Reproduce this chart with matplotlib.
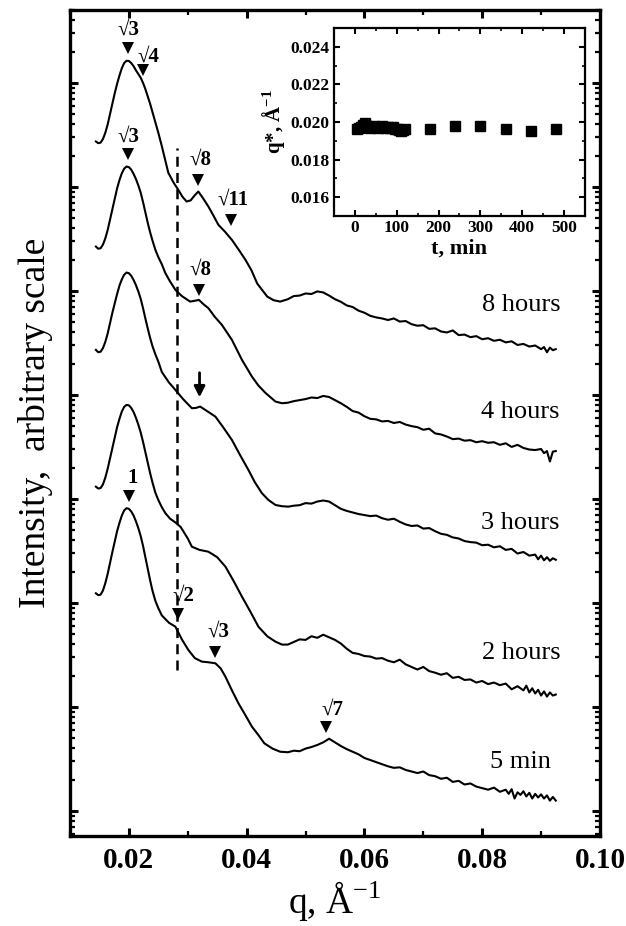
import numpy as np
import matplotlib
matplotlib.use("Agg")
import matplotlib.pyplot as plt
from matplotlib.ticker import LogLocator, NullFormatter, MultipleLocator, FormatStrFormatter

plt.rcParams['font.family'] = ['Liberation Serif', 'DejaVu Serif']
plt.rcParams['mathtext.fontset'] = 'custom'
plt.rcParams['mathtext.rm'] = 'Liberation Serif'
plt.rcParams['mathtext.bf'] = 'Liberation Serif:bold'

# ---- SAXS curves (q in 1/A, log10 of shifted intensity) ----
q_8h = [0.0144, 0.0148, 0.0152, 0.0156, 0.0160, 0.0164, 0.0168, 0.0172, 0.0176, 0.0180,
        0.0184, 0.0188, 0.0192, 0.0196, 0.0200, 0.0204, 0.0208, 0.0212, 0.0216, 0.0220,
        0.0224, 0.0228, 0.0232, 0.0236, 0.0240, 0.0245, 0.0250, 0.0256, 0.0262,
        0.0267, 0.0276, 0.0284, 0.0291, 0.0298,
        0.0305, 0.0312, 0.0318, 0.0326, 0.0335, 0.0343, 0.0352, 0.0363, 0.0375, 0.0386,
        0.0398, 0.0408, 0.0418, 0.0435, 0.0446, 0.0457,
        0.047, 0.048, 0.049, 0.050, 0.051, 0.052, 0.053, 0.054, 0.055, 0.056,
        0.057, 0.058, 0.059, 0.060, 0.061, 0.062, 0.063, 0.064, 0.065, 0.066,
        0.067, 0.068, 0.069, 0.070, 0.071, 0.072, 0.073, 0.074, 0.075, 0.076,
        0.077, 0.078, 0.079, 0.080, 0.081, 0.082, 0.083, 0.084, 0.085, 0.086,
        0.087, 0.088, 0.089, 0.090, 0.0905, 0.091, 0.0915, 0.092, 0.0925]
lg_8h = [6.436, 6.42, 6.425, 6.46, 6.52, 6.60, 6.70, 6.80, 6.90, 6.99,
         7.07, 7.14, 7.19, 7.212, 7.21, 7.19, 7.16, 7.12, 7.085, 7.05,
         7.00, 6.94, 6.87, 6.80, 6.72, 6.62, 6.52, 6.39, 6.25,
         6.135, 6.04, 5.971, 5.905, 5.859,
         5.87, 5.92, 5.955, 5.89, 5.811, 5.73, 5.635, 5.57, 5.49, 5.40,
         5.298, 5.20, 5.07, 4.945, 4.91, 4.897,
         4.92, 4.95, 4.955, 4.975, 4.97, 4.995, 4.985, 4.955, 4.92, 4.895,
         4.86, 4.845, 4.81, 4.79, 4.76, 4.745, 4.735, 4.72, 4.735, 4.705,
         4.71, 4.68, 4.665, 4.67, 4.635, 4.64, 4.61, 4.60, 4.62, 4.575,
         4.58, 4.555, 4.565, 4.535, 4.545, 4.52, 4.53, 4.505, 4.515, 4.48,
         4.49, 4.465, 4.475, 4.44, 4.46, 4.41, 4.455, 4.43, 4.44]

q_4h = [0.0144, 0.0148, 0.0152, 0.0156, 0.0160, 0.0164, 0.0168, 0.0172, 0.0176, 0.0180,
        0.0184, 0.0188, 0.0192, 0.0196, 0.0200, 0.0204, 0.0208, 0.0212, 0.0216, 0.0220,
        0.0224, 0.0228, 0.0232, 0.0236, 0.0240, 0.0245, 0.0250, 0.0256, 0.0262,
        0.0270, 0.0279, 0.0290, 0.0304, 0.0312,
        0.0319, 0.0327, 0.0335, 0.0346, 0.0358, 0.0375, 0.0392, 0.0409, 0.0420, 0.0432,
        0.0449, 0.0460,
        0.047, 0.048, 0.049, 0.050, 0.051, 0.052, 0.053, 0.054, 0.055, 0.056,
        0.057, 0.058, 0.059, 0.060, 0.061, 0.062, 0.063, 0.064, 0.065, 0.066,
        0.067, 0.068, 0.069, 0.070, 0.071, 0.072, 0.073, 0.074, 0.075, 0.076,
        0.077, 0.078, 0.079, 0.080, 0.081, 0.082, 0.083, 0.084, 0.085, 0.086,
        0.087, 0.088, 0.089, 0.090, 0.0905, 0.091, 0.0915, 0.092, 0.0925]
lg_4h = [5.426, 5.405, 5.41, 5.445, 5.505, 5.585, 5.685, 5.785, 5.885, 5.985,
         6.065, 6.13, 6.175, 6.195, 6.19, 6.165, 6.125, 6.075, 6.015, 5.945,
         5.855, 5.755, 5.655, 5.565, 5.485, 5.395, 5.325, 5.255, 5.17,
         5.09, 5.01, 4.95, 4.897, 4.905,
         4.913, 4.87, 4.834, 4.75, 4.673, 4.529, 4.337, 4.176, 4.09, 4.019,
         3.936, 3.92,
         3.925, 3.94, 3.95, 3.96, 3.975, 3.97, 3.99, 3.98, 3.95, 3.92,
         3.885, 3.845, 3.83, 3.795, 3.77, 3.765, 3.745, 3.75, 3.73, 3.74,
         3.715, 3.70, 3.69, 3.665, 3.675, 3.63, 3.62, 3.60, 3.575, 3.58,
         3.56, 3.565, 3.545, 3.555, 3.54, 3.545, 3.52, 3.535, 3.50, 3.52,
         3.49, 3.475, 3.47, 3.48, 3.44, 3.46, 3.36, 3.455, 3.46]

q_3h = [0.0144, 0.0148, 0.0152, 0.0156, 0.0160, 0.0164, 0.0168, 0.0172, 0.0176, 0.0180,
        0.0184, 0.0188, 0.0192, 0.0196, 0.0200, 0.0204, 0.0208, 0.0212, 0.0216, 0.0220,
        0.0224, 0.0228, 0.0232, 0.0236, 0.0240, 0.0245, 0.0250, 0.0256,
        0.0268, 0.0279, 0.0292, 0.0307, 0.0314,
        0.0321, 0.0334, 0.0347, 0.0360, 0.0375, 0.0389, 0.0403, 0.0414, 0.0426, 0.0437,
        0.0449, 0.0460, 0.0471,
        0.048, 0.049, 0.050, 0.051, 0.052, 0.053, 0.054, 0.055, 0.056,
        0.057, 0.058, 0.059, 0.060, 0.061, 0.062, 0.063, 0.064, 0.065, 0.066,
        0.067, 0.068, 0.069, 0.070, 0.071, 0.072, 0.073, 0.074, 0.075, 0.076,
        0.077, 0.078, 0.079, 0.080, 0.081, 0.082, 0.083, 0.084, 0.085, 0.086,
        0.087, 0.088, 0.089, 0.0895, 0.090, 0.0905, 0.091, 0.0915, 0.092, 0.0925]
lg_3h = [4.433, 4.41, 4.415, 4.45, 4.51, 4.59, 4.69, 4.79, 4.88, 4.97,
         5.05, 5.11, 5.155, 5.176, 5.17, 5.145, 5.105, 5.055, 4.995, 4.925,
         4.835, 4.735, 4.64, 4.55, 4.47, 4.39, 4.32, 4.22,
         4.12, 4.048, 3.96, 3.872, 3.875,
         3.888, 3.84, 3.791, 3.69, 3.567, 3.42, 3.279, 3.16, 3.055, 2.99,
         2.942, 2.93, 2.926,
         2.935, 2.94, 2.96, 2.955, 2.975, 2.985, 2.975, 2.94, 2.905,
         2.885, 2.87, 2.855, 2.845, 2.835, 2.84, 2.815, 2.80, 2.81, 2.78,
         2.755, 2.74, 2.745, 2.715, 2.72, 2.69, 2.665, 2.655, 2.63, 2.62,
         2.595, 2.585, 2.58, 2.555, 2.56, 2.535, 2.545, 2.51, 2.52, 2.475,
         2.49, 2.455, 2.465, 2.42, 2.455, 2.41, 2.44, 2.405, 2.43, 2.415]

q_2h = [0.0144, 0.0148, 0.0152, 0.0156, 0.0160, 0.0164, 0.0168, 0.0172, 0.0176, 0.0180,
        0.0184, 0.0188, 0.0192, 0.0196, 0.0200, 0.0204, 0.0208, 0.0212, 0.0216, 0.0220,
        0.0224, 0.0228, 0.0232, 0.0236, 0.0240, 0.0245, 0.0250, 0.0256, 0.0262,
        0.0270, 0.0279, 0.0288, 0.0300, 0.0307,
        0.0320, 0.0335, 0.0350, 0.0364, 0.0378, 0.0392, 0.0406, 0.0420, 0.0435, 0.0449,
        0.0460,
        0.047, 0.048, 0.049, 0.050, 0.051, 0.052, 0.053, 0.054, 0.055, 0.056,
        0.057, 0.058, 0.059, 0.060, 0.061, 0.062, 0.063, 0.064, 0.065, 0.066,
        0.067, 0.068, 0.069, 0.070, 0.071, 0.072, 0.073, 0.074, 0.075, 0.076,
        0.077, 0.078, 0.079, 0.080, 0.081, 0.082, 0.083, 0.084, 0.085, 0.086,
        0.087, 0.0875, 0.088, 0.0885, 0.089, 0.0895, 0.090, 0.0905, 0.091, 0.0915,
        0.092, 0.0925]
lg_2h = [3.118, 3.10, 3.105, 3.14, 3.205, 3.29, 3.39, 3.49, 3.59, 3.69,
         3.77, 3.84, 3.885, 3.904, 3.90, 3.875, 3.835, 3.78, 3.715, 3.64,
         3.55, 3.45, 3.35, 3.25, 3.16, 3.06, 2.99, 2.92, 2.863,
         2.81, 2.774, 2.73, 2.62, 2.541,
         2.51, 2.493, 2.44, 2.349, 2.21, 2.061, 1.92, 1.772, 1.68, 1.628,
         1.60,
         1.60, 1.625, 1.65, 1.645, 1.68, 1.665, 1.695, 1.67, 1.645, 1.61,
         1.56, 1.52, 1.51, 1.49, 1.485, 1.465, 1.47, 1.445, 1.43, 1.455,
         1.41, 1.385, 1.36, 1.385, 1.345, 1.33, 1.31, 1.325, 1.28, 1.29,
         1.26, 1.265, 1.235, 1.25, 1.22, 1.235, 1.21, 1.225, 1.17, 1.20,
         1.16, 1.205, 1.14, 1.18, 1.13, 1.165, 1.11, 1.15, 1.10, 1.14,
         1.11, 1.12]

q_5m = [0.0144, 0.0148, 0.0152, 0.0156, 0.0160, 0.0164, 0.0168, 0.0172, 0.0176, 0.0180,
        0.0184, 0.0188, 0.0192, 0.0196, 0.0200, 0.0204, 0.0208, 0.0212, 0.0216, 0.0220,
        0.0224, 0.0228, 0.0232, 0.0236, 0.0240, 0.0245, 0.0250, 0.0256,
        0.0268, 0.0279, 0.0290, 0.0301, 0.0312,
        0.0324, 0.0335, 0.0347, 0.0356, 0.0364, 0.0375, 0.0386, 0.0398, 0.0409, 0.0420,
        0.0430, 0.0444, 0.0457,
        0.047, 0.048, 0.049, 0.050, 0.051, 0.052, 0.053, 0.054, 0.055, 0.056,
        0.057, 0.058, 0.059, 0.060, 0.061, 0.062, 0.063, 0.064, 0.065, 0.066,
        0.067, 0.068, 0.069, 0.070, 0.071, 0.072, 0.073, 0.074, 0.075, 0.076,
        0.077, 0.078, 0.079, 0.080, 0.081, 0.082, 0.083, 0.084, 0.0845, 0.085,
        0.0855, 0.086, 0.0865, 0.087, 0.0875, 0.088, 0.0885, 0.089, 0.0895, 0.090,
        0.0905, 0.091, 0.0915, 0.092, 0.0925]
lg_5m = [2.093, 2.075, 2.08, 2.12, 2.19, 2.28, 2.385, 2.49, 2.59, 2.69,
         2.77, 2.84, 2.89, 2.911, 2.905, 2.88, 2.84, 2.785, 2.72, 2.645,
         2.55, 2.44, 2.33, 2.22, 2.12, 2.02, 1.95, 1.88,
         1.81, 1.772, 1.65, 1.548, 1.47,
         1.436, 1.43, 1.42, 1.37, 1.291, 1.16, 1.036, 0.92, 0.811, 0.73,
         0.651, 0.60, 0.57,
         0.565, 0.58, 0.575, 0.60, 0.615, 0.635, 0.66, 0.695, 0.66, 0.625,
         0.595, 0.57, 0.545, 0.51, 0.49, 0.47, 0.45, 0.43, 0.415, 0.42,
         0.395, 0.38, 0.365, 0.38, 0.345, 0.335, 0.31, 0.32, 0.28, 0.29,
         0.255, 0.265, 0.235, 0.22, 0.205, 0.225, 0.185, 0.205, 0.165, 0.21,
         0.12, 0.18, 0.155, 0.19, 0.14, 0.175, 0.12, 0.165, 0.13, 0.16,
         0.12, 0.15, 0.10, 0.135, 0.10]

curve_labels = ["8 hours", "4 hours", "3 hours", "2 hours", "5 min"]

# ---- inset: peak position vs time ----
t_min = [5, 10, 15, 20, 25, 30, 35, 40, 45, 50, 55, 60, 65, 70, 75, 80, 85, 90, 95,
         100, 105, 110, 115, 120, 180, 240, 300, 360, 420, 480]
q_star = [0.01965, 0.01968, 0.01972, 0.01985, 0.01995, 0.01978, 0.01970, 0.01975,
          0.01980, 0.01972, 0.01968, 0.01975, 0.01978, 0.01972, 0.01968, 0.01975,
          0.01970, 0.01972, 0.01965, 0.01962, 0.01958, 0.01955, 0.01960, 0.01965,
          0.01965, 0.01977, 0.01977, 0.01965, 0.01951, 0.01965]

fig = plt.figure(figsize=(6.26, 9.26), dpi=100)
ax = fig.add_axes([0.1118, 0.0972, 0.8466, 0.892])

curves = [(q_8h, lg_8h), (q_4h, lg_4h), (q_3h, lg_3h), (q_2h, lg_2h), (q_5m, lg_5m)]
for q, lg in curves:
    ax.plot(q, 10 ** np.array(lg), color='black', lw=1.5)

ax.set_yscale('log')
ax.set_xlim(0.01, 0.10)
ax.set_ylim(10 ** -0.24, 10 ** 7.70)

# dashed guide line
ax.plot([0.0281, 0.0281], [10 ** 1.356, 10 ** 6.375], color='black', lw=1.8,
        dashes=(4, 2.5))

# peak markers: (text, q_text, lg_text, q_tri, lg_tri)
peaks = [("√3", 0.0199, 7.51, 0.0199, 7.337),
         ("√4", 0.0234, 7.25, 0.0224, 7.125),
         ("√3", 0.0199, 6.48, 0.0199, 6.317),
         ("√8", 0.0321, 6.26, 0.0318, 6.067),
         ("√11", 0.0377, 5.875, 0.0374, 5.683),
         ("√8", 0.0321, 5.20, 0.0319, 5.01),
         ("1", 0.0207, 3.20, 0.0200, 3.029),
         ("√2", 0.0292, 2.067, 0.0284, 1.894),
         ("√3", 0.0352, 1.721, 0.0347, 1.529),
         ("√7", 0.0546, 0.971, 0.0535, 0.808)]
for txt, qt, lt, qm, lm in peaks:
    ax.text(qt, 10 ** lt, txt, ha='center', va='center', fontsize=15, fontweight='bold')
    ax.plot(qm, 10 ** lm, marker='v', color='black', ms=8, mew=0)

ax.annotate("", xy=(0.0320, 10 ** 3.95), xytext=(0.0320, 10 ** 4.24),
            arrowprops=dict(arrowstyle='-|>', color='black', lw=2, mutation_scale=16))

label_pos = [(0.0933, 4.865), (0.0932, 3.837), (0.0932, 2.769), (0.0933, 1.519), (0.0916, 0.471)]
for lab, (qx, ly) in zip(curve_labels, label_pos):
    ax.text(qx, 10 ** ly, lab, ha='right', va='center', fontsize=19)

ax.xaxis.set_major_locator(MultipleLocator(0.02))
ax.xaxis.set_minor_locator(MultipleLocator(0.01))
ax.xaxis.set_major_formatter(FormatStrFormatter('%.2f'))
ax.yaxis.set_major_locator(LogLocator(base=10, numticks=20))
ax.yaxis.set_minor_locator(LogLocator(base=10, subs=np.arange(2, 10), numticks=20))
ax.yaxis.set_major_formatter(NullFormatter())
ax.yaxis.set_minor_formatter(NullFormatter())
ax.tick_params(which='both', direction='in', top=True, right=True)
ax.tick_params(which='major', length=6, width=2.2, labelsize=21, pad=8)
ax.tick_params(which='minor', length=3.5, width=1.6)
for lbl in ax.get_xticklabels():
    lbl.set_fontweight('bold')
for sp in ax.spines.values():
    sp.set_linewidth(2.4)

ax.set_xlabel(r"q, Å$^{\mathregular{-1}}$", fontsize=27, labelpad=4)
ax.set_ylabel("Intensity,  arbitrary scale", fontsize=27, labelpad=4)

# inset
ins = fig.add_axes([0.5335, 0.7667, 0.401, 0.203])
ins.plot(t_min, q_star, ls='none', marker='s', ms=7, color='black')
ins.set_xlim(-50, 550)
ins.set_ylim(0.015, 0.025)
ins.xaxis.set_major_locator(MultipleLocator(100))
ins.xaxis.set_minor_locator(MultipleLocator(50))
ins.yaxis.set_major_locator(MultipleLocator(0.002))
ins.yaxis.set_minor_locator(MultipleLocator(0.001))
ins.yaxis.set_major_formatter(FormatStrFormatter('%.3f'))
ins.tick_params(which='both', direction='in', top=True, right=True)
ins.tick_params(which='major', length=4, width=1.5, labelsize=12.5, pad=3)
ins.tick_params(which='minor', length=2.5, width=1.2)
for lbl in ins.get_xticklabels() + ins.get_yticklabels():
    lbl.set_fontweight('bold')
for sp in ins.spines.values():
    sp.set_linewidth(1.6)
ins.set_xlabel("t, min", fontsize=16, fontweight='bold', labelpad=2)
ins.set_ylabel(r"q*, Å$^{\mathbf{-1}}$", fontsize=15, fontweight='bold', labelpad=2)

fig.savefig("out.png", dpi=100)
